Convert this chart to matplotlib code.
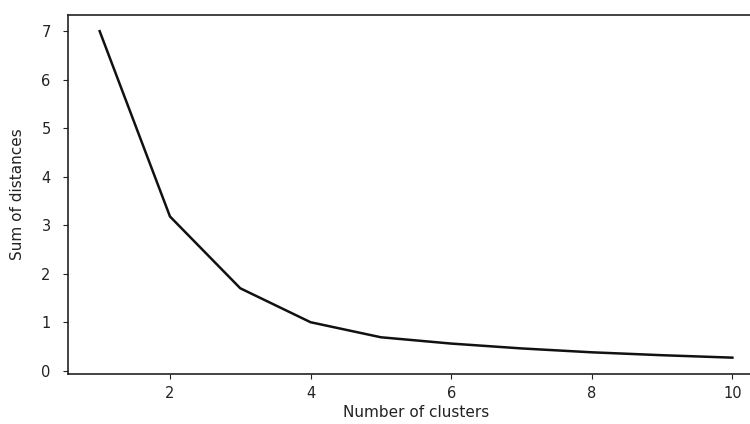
import matplotlib
matplotlib.use("Agg")
import matplotlib.pyplot as plt

# number of clusters vs. sum of distances (elbow curve)
n_clusters = [1, 2, 3, 4, 5, 6, 7, 8, 9, 10]
sum_dist = [7.0, 3.18, 1.7, 1.0, 0.69, 0.56, 0.46, 0.38, 0.32, 0.27]

fig = plt.figure(figsize=(7.5, 4.24), dpi=100)
# right spine falls just outside the picture, as in the reference
ax = fig.add_axes([0.0907, 0.118, 0.928, 0.847])

ax.plot(n_clusters, sum_dist, color="#111111", linewidth=1.8)

ax.set_xticks([2, 4, 6, 8, 10])
ax.set_yticks(range(0, 8))
ax.tick_params(labelsize=10.5, color="#222222", labelcolor="#222222")
ax.tick_params(axis="y", pad=9)
ax.tick_params(axis="x", pad=5)
for s in ax.spines.values():
    s.set_color("#222222")
    s.set_linewidth(1.2)

ax.set_xlabel("Number of clusters", fontsize=11, color="#222222", labelpad=3)
ax.set_ylabel("Sum of distances", fontsize=11, color="#222222", labelpad=12)

plt.savefig("out.png", dpi=100)
